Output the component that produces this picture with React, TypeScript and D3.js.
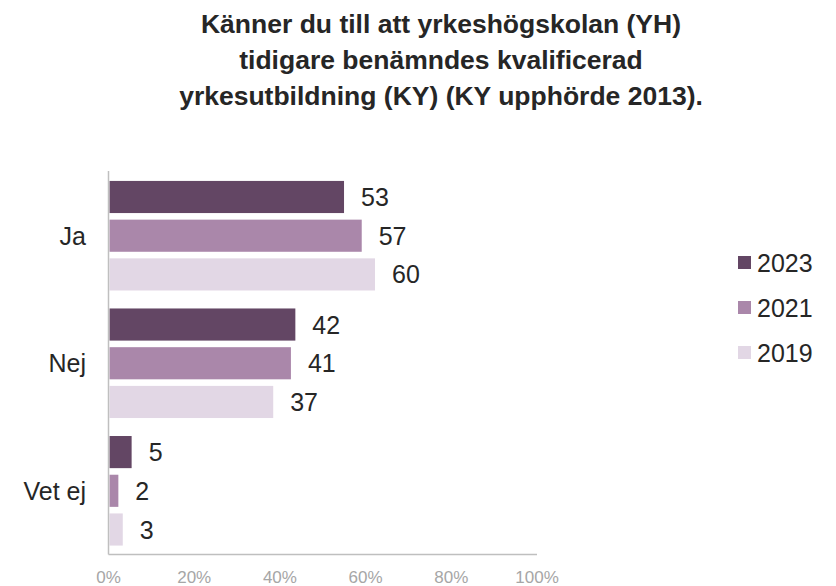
import React from "react";
import * as d3 from "d3";

const titleLines = [
  "Känner du till att yrkeshögskolan (YH)",
  "tidigare benämndes kvalificerad",
  "yrkesutbildning (KY) (KY upphörde 2013).",
];
const categories = ["Ja", "Nej", "Vet ej"];
const seriesNames = ["2023", "2021", "2019"];
const values2023 = [53, 42, 5];
const values2021 = [57, 41, 2];
const values2019 = [60, 37, 3];
const tickValues = [0, 20, 40, 60, 80, 100];
const colors = ["#634664", "#aa87aa", "#e2d7e5"];

export default function App() {
  const W = 836;
  const H = 586;
  const series = [values2023, values2021, values2019];
  const plotLeft = 108.5;
  const plotTop = 172;
  const plotBottom = 554.5;
  const axisRight = 537;

  const y = d3.scaleBand<string>().domain(categories).range([plotTop, plotBottom]).paddingInner(0.141).paddingOuter(0.07);
  const yInner = d3.scaleBand<string>().domain(seriesNames).range([0, y.bandwidth()]).paddingInner(0.17).paddingOuter(0);
  const xBar = d3.scaleLinear().domain([0, 100]).range([plotLeft + 1, 552]);
  const xAxis = d3.scaleLinear().domain([0, 100]).range([plotLeft, axisRight]);
  const font = "'Liberation Sans', Arial, sans-serif";

  return (
    <svg width={W} height={H} style={{ position: "absolute", left: 0, top: 0 }} fontFamily={font}>
      <rect width={W} height={H} fill="#ffffff" />
      {titleLines.map((t, i) => (
        <text key={i} x={441} y={33 + i * 36} textAnchor="middle" fontSize={26.5} fontWeight="bold" fill="#262626">
          {t}
        </text>
      ))}
      {categories.map((c, ci) => (
        <g key={c}>
          {series.map((vals, si) => {
            const yy = (y(c) as number) + (yInner(seriesNames[si]) as number);
            const h = yInner.bandwidth();
            return (
              <g key={si}>
                <rect x={xBar(0)} y={yy} width={xBar(vals[ci]) - xBar(0)} height={h} fill={colors[si]} />
                <text x={xBar(vals[ci]) + 17} y={yy + h / 2} dy="0.36em" fontSize={25} fill="#262626">
                  {vals[ci]}
                </text>
              </g>
            );
          })}
          <text x={86} y={(y(c) as number) + y.bandwidth() / 2} dy="0.36em" textAnchor="end" fontSize={25} fill="#262626">
            {c}
          </text>
        </g>
      ))}
      <line x1={plotLeft} x2={plotLeft} y1={plotTop - 1} y2={plotBottom} stroke="#bfbfbf" strokeWidth={1.5} />
      <line x1={plotLeft} x2={axisRight} y1={plotBottom} y2={plotBottom} stroke="#bfbfbf" strokeWidth={1.5} />
      {tickValues.map((t) => (
        <text key={t} x={xAxis(t)} y={583} textAnchor="middle" fontSize={17} fill="#a6a6a6">
          {t}%
        </text>
      ))}
      {seriesNames.map((s, i) => (
        <g key={s} transform={`translate(738, ${263 + i * 45})`}>
          <rect x={0} y={-7} width={13} height={13} fill={colors[i]} />
          <text x={19} y={0} dy="0.36em" fontSize={25} fill="#262626">
            {s}
          </text>
        </g>
      ))}
    </svg>
  );
}
